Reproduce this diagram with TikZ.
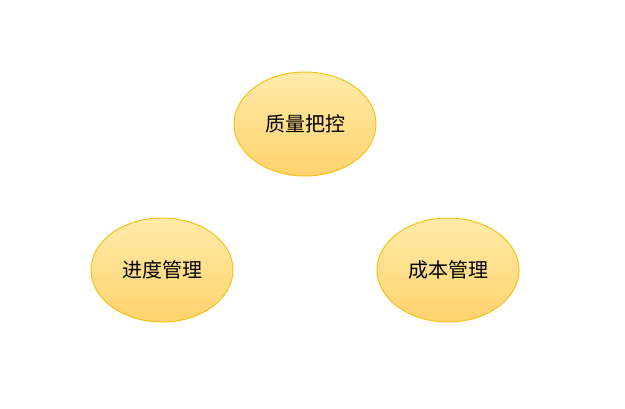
\documentclass[tikz,border=0pt]{standalone}
\usepackage{fontspec}
\newfontfamily\cjk{Noto Sans CJK SC}
\usetikzlibrary{shapes.geometric}
\definecolor{topy}{HTML}{FFEBA8}
\definecolor{boty}{HTML}{FFD36E}
\definecolor{liney}{HTML}{F5C21B}
\begin{document}
\begin{tikzpicture}[x=0.5pt, y=-0.5pt,
    goal/.style={ellipse, draw=liney, line width=0.5pt, top color=topy, bottom color=boty,
        minimum width=71pt, minimum height=52pt, inner sep=0pt, font=\cjk\fontsize{10pt}{12pt}\selectfont}]
                                \useasboundingbox (0, 0) rectangle (625, 408);
                                \node[goal] (qc) at (305, 124) {质量把控};
                                \node[goal] (sc) at (162, 270) {进度管理};
                                \node[goal] (cc) at (448, 270) {成本管理};
                            \end{tikzpicture}
\end{document}
